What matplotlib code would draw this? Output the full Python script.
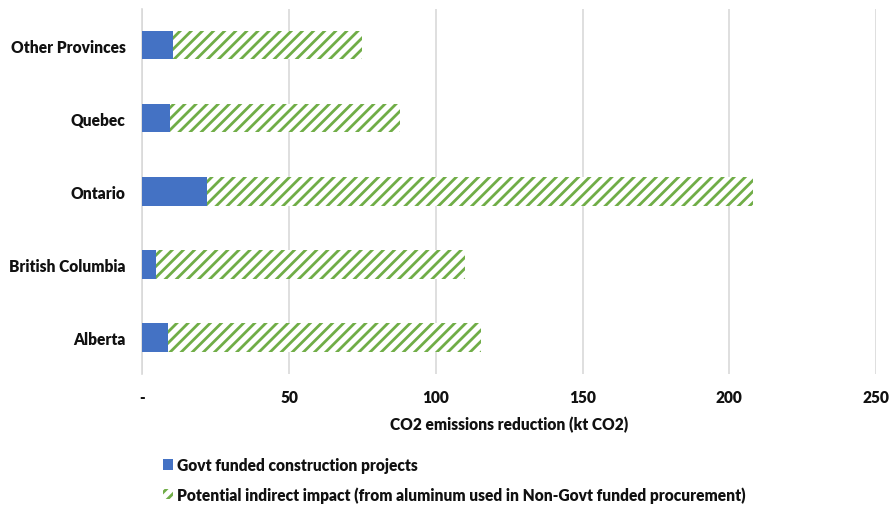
import matplotlib
matplotlib.use("Agg")
import matplotlib.pyplot as plt
from matplotlib.patches import Patch

categories = ["Other Provinces", "Quebec", "Ontario", "British Columbia", "Alberta"]
govt_funded = [10.3, 9.3, 22.2, 4.6, 8.6]
indirect = [64.5, 78.4, 185.8, 105.2, 106.9]
xticks = [0, 50, 100, 150, 200, 250]
xtick_labels = ["-", "50", "100", "150", "200", "250"]
xlabel = "CO2 emissions reduction (kt CO2)"
legend_labels = ["Govt funded construction projects",
                 "Potential indirect impact (from aluminum used in Non-Govt funded procurement)"]

plt.rcParams['font.family'] = ['Lato', 'DejaVu Sans']
plt.rcParams['hatch.linewidth'] = 2.0

FS = 11.2
FW = "heavy"
W, H = 890, 506
fig = plt.figure(figsize=(W / 100, H / 100), dpi=100)
ax = fig.add_axes([142.3 / W, (H - 375) / H, (876 - 142.3) / W, (375 - 9.5) / H])

ypos = list(range(len(categories)))
blue = "#4472C4"
green = "#70AD47"

ax.barh(ypos, govt_funded, height=0.39, color=blue, linewidth=0, zorder=3)
ax.barh(ypos, indirect, left=govt_funded, height=0.39, facecolor="white",
        edgecolor=green, hatch="///", linewidth=0, zorder=3)

ax.set_xlim(0, 250)
ax.set_ylim(len(categories) - 0.5, -0.5)
ax.set_yticks(ypos)
ax.set_yticklabels(categories, fontsize=FS, fontweight=FW)
ax.set_xticks(xticks)
ax.set_xticklabels(xtick_labels, fontsize=FS, fontweight=FW)
ax.tick_params(axis="both", length=0, labelcolor="#111111")
ax.tick_params(axis="x", pad=10.5)
ax.tick_params(axis="y", pad=12)
ax.set_xlabel(xlabel, fontsize=FS, fontweight=FW, labelpad=8, color="#111111")

ax.grid(axis="x", color="#D9D9D9", linewidth=1.2, zorder=0)
for s in ["top", "right", "bottom"]:
    ax.spines[s].set_visible(False)
ax.spines["left"].set_color("#D9D9D9")
ax.spines["left"].set_linewidth(1.2)

handles = [Patch(facecolor=blue, linewidth=0),
           Patch(facecolor="white", edgecolor=green, hatch="///", linewidth=0)]
leg = fig.legend(handles, legend_labels, loc="upper left",
                 bbox_to_anchor=(163 / W, 1 - 458 / H), frameon=False,
                 prop={"size": FS, "weight": FW},
                 handlelength=0.62, handleheight=0.62, handletextpad=0.28,
                 labelspacing=0.85, borderaxespad=0, borderpad=0)
for t in leg.get_texts():
    t.set_color("#111111")

fig.savefig("out.png", dpi=100)
